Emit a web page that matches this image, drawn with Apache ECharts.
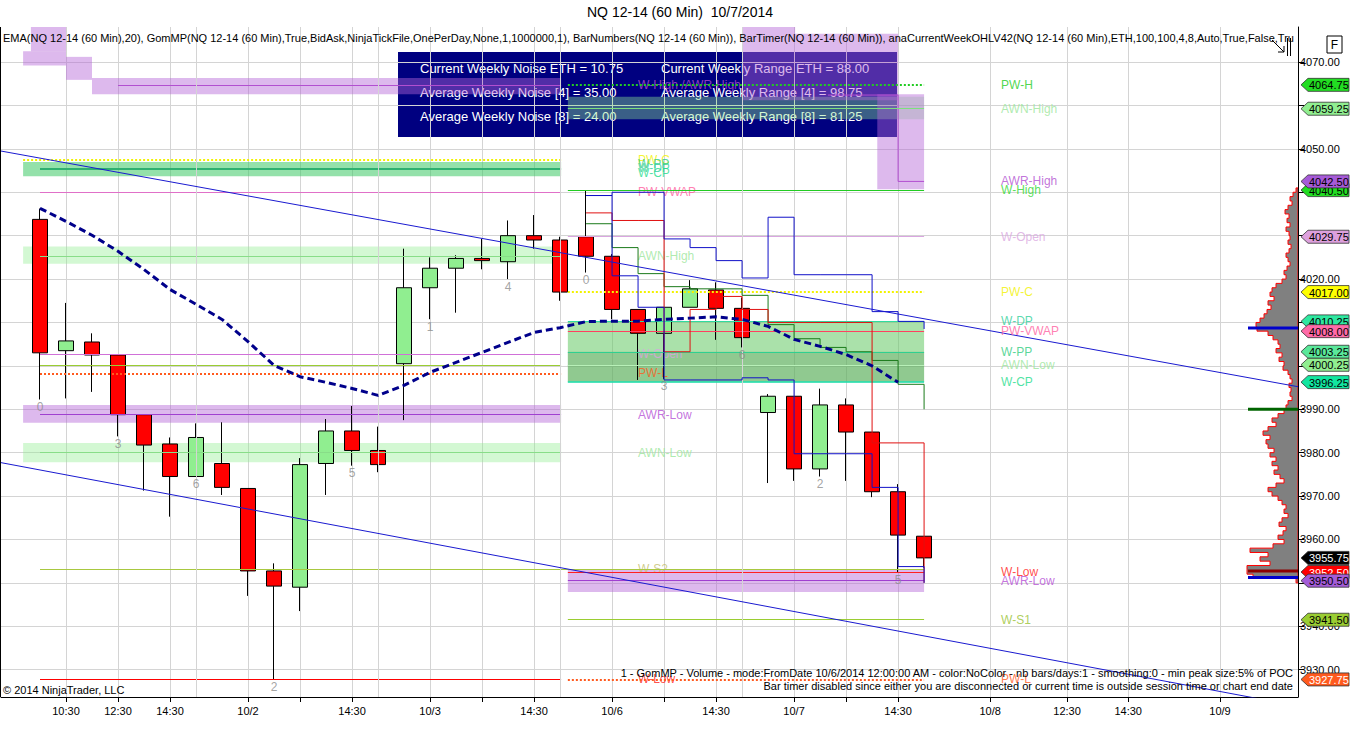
<!DOCTYPE html>
<html><head><meta charset="utf-8">
<script src="https://cdn.jsdelivr.net/npm/echarts@6/dist/echarts.min.js"></script>
<style>html,body{margin:0;padding:0;background:#fff}#c{width:1360px;height:743px}</style>
</head><body><div id="c"></div>
<script>
// ---------------- DATA ----------------
const opens  = [4033.75,4003.5,4005.5,4002.5,3988.75,3982.0,3974.5,3977.5,3971.75,3952.75,3949.0,3977.5,3985.0,3980.5,4000.5,4018.0,4022.5,4024.75,4024.0,4030.0,4029.0,4029.75,4025.25,4013.0,4007.5,4013.5,4017.5,4013.25,3989.25,3993.0,3976.25,3991.0,3984.75,3971.0,3960.75];
const closes = [4003.0,4005.75,4002.5,3988.75,3981.75,3974.5,3983.5,3972.0,3952.75,3949.25,3977.25,3985.0,3980.5,3977.25,4018.0,4022.5,4024.75,4024.25,4030.0,4029.0,4017.0,4025.25,4013.0,4007.5,4013.5,4017.75,4013.25,4006.5,3993.0,3976.25,3991.0,3984.75,3971.0,3961.0,3955.75];
const lows   = [3992.25,3992.5,3994.0,3983.75,3971.25,3965.25,3974.5,3970.25,3947.0,3927.75,3943.5,3970.25,3977.0,3975.5,3987.5,4010.75,4012.25,4022.25,4020.0,4027.0,4015.0,4021.5,4010.75,3996.75,3997.0,4013.5,4006.0,4004.25,3973.0,3973.5,3974.5,3973.5,3969.75,3952.5,3953.5];
const highs  = [4036.25,4014.5,4007.5,4002.5,3988.75,3983.5,3986.75,3987.0,3971.75,3954.5,3978.75,3987.75,3990.75,3986.0,4027.0,4025.0,4025.5,4029.25,4033.5,4034.75,4029.75,4040.5,4025.75,4013.0,4013.5,4019.75,4019.25,4015.75,3993.5,3993.0,3994.75,3992.5,3984.75,3972.75,3960.75];
const emaValues = [4036.3,4033.3,4030.1,4026.4,4022.2,4017.6,4014.2,4010.7,4005.6,4000.1,3997.5,3996.2,3994.8,3993.2,3995.5,3998.5,4000.8,4003.1,4005.4,4007.7,4008.8,4010.2,4010.3,4010.3,4010.7,4011.0,4011.3,4010.7,4009.1,4006.1,4004.5,4002.6,4000.0,3996.2];
const barNumberIdx  = [0,3,6,9,12,15,18,21,24,27,30,33];
const barNumberText = ['0','3','6','2','5','1','4','0','3','6','2','5'];

const xLabelSlots = [1,3,5,8,12,15,19,22,26,29,33,36.54,39.5,41.85,45.38];
const xLabelTexts = ['10:30','12:30','14:30','10/2','14:30','10/3','14:30','10/6','14:30','10/7','14:30','10/8','12:30','14:30','10/9'];
const xTickSlots  = [1,3,5,8,10,12,15,17,19,22,24,26,29,31,33,36.54,39.5,41.85,45.38];
const xExtraGridSlots = [6,13,20,27];
const yTickValues  = [3930,3940,3950,3960,3970,3980,3990,4000,4010,4020,4030,4040,4050,4060,4070];
const yLabelValues = [3930,3940,3960,3970,3980,3990,4020,4050,4070]; // the others sit under price flags

// step lines of the current week (one value per bar, bars 21..34)
const stepBars      = [21,22,23,24,25,26,27,28,29,30,31,32,33,34];
const stepBlueUpper = [4039.25,4040.0,4040.0,4029.25,4027.25,4024.25,4020.25,4034.25,4021.0,4021.0,4021.0,4012.5,4010.25,4008.5];
const stepBlueLower = [4039.25,4020.75,4013.5,3996.75,3996.75,3996.75,3997.25,3996.75,3979.75,3979.75,3979.75,3972.0,3953.75,3950.0];
const stepRed       = [4035.25,4033.5,4033.5,4003.25,4013.0,4016.0,4013.0,4010.0,4010.0,4010.0,4010.0,3982.25,3982.25,3950.0];
const stepGreen     = [4032.75,4027.25,4021.25,4018.25,4017.75,4017.75,4016.25,4009.5,4006.25,4004.25,4003.25,4001.25,3995.75,3990.0];
// current-week AWR-High step [slot, value]
const awrHighStep = [[30.3,4062.4],[33,4062.4],[33,4042.5],[34,4042.5]];

// trend lines [slot, value]
const trendUpper = [[-1.5,4049.5],[48.38,3995.2]];
const trendLower = [[-1.5,3977.7],[48.38,3921.6]];

// previous week levels
const prevNames  = ['W-High /AWR-High','PW-C','W-PP','W-DP','W-CP','PW-VWAP','AWN-High','W-Open','S1','PW-L','AWR-Low','AWN-Low','W-S2','W-Low'];
const prevValues = [4064.75,4047.5,4046.5,4045.5,4044.5,4040.0,4025.25,4002.75,4000.25,3998.25,3988.75,3980.0,3953.25,3927.75];
// current week levels
const curNames  = ['PW-H','AWN-High','AWR-High','W-High','W-Open','PW-C','W-DP','PW-VWAP','W-PP','AWN-Low','W-CP','W-Low','AWR-Low','W-S1','PW-L'];
const curValues = [4064.75,4059.25,4042.5,4040.5,4029.75,4017.0,4010.25,4008.0,4003.25,4000.25,3996.25,3952.5,3950.5,3941.5,3927.75];

// price flags on the axis
const flagNames  = ['PW-H','AWN-High','W-High','AWR-High','W-Open','PW-C','W-DP','PW-VWAP','W-PP','AWN-Low','W-CP','W-Low','Last','AWR-Low','W-S1','PW-L'];
const flagValues = [4064.75,4059.25,4040.5,4042.5,4029.75,4017.0,4010.25,4008.0,4003.25,4000.25,3996.25,3952.5,3955.75,3950.5,3941.5,3927.75];

// volume profile (price row centre, volume)
const profilePrices = [4040.5,4039.5,4038.5,4037.5,4036.5,4035.5,4034.5,4033.5,4032.5,4031.5,4030.5,4029.5,4028.5,4027.5,4026.5,4025.5,4024.5,4023.5,4022.5,4021.5,4020.5,4019.5,4018.5,4017.5,4016.5,4015.5,4014.5,4013.5,4012.5,4011.5,4010.5,4009.5,4008.5,4007.5,4006.5,4005.5,4004.5,4003.5,4002.5,4001.5,4000.5,3999.5,3998.5,3997.5,3996.5,3995.5,3994.5,3993.5,3992.5,3991.5,3990.5,3989.5,3988.5,3987.5,3986.5,3985.5,3984.5,3983.5,3982.5,3981.5,3980.5,3979.5,3978.5,3977.5,3976.5,3975.5,3974.5,3973.5,3972.5,3971.5,3970.5,3969.5,3968.5,3967.5,3966.5,3965.5,3964.5,3963.5,3962.5,3961.5,3960.5,3959.5,3958.5,3957.5,3956.5,3955.5,3954.5,3953.5,3952.5,3951.5,3950.5];
const profileVols   = [2,5,8,6,10,13,9,11,8,12,9,8,10,7,9,12,10,8,11,14,12,16,22,26,28,24,30,27,31,34,38,42,41,30,25,20,18,22,16,19,14,15,10,8,6,9,7,8,6,10,12,14,20,26,22,30,35,28,32,30,24,28,22,26,20,24,18,14,22,30,26,20,16,12,14,10,16,19,12,15,20,14,25,48,30,38,28,51,51,45,2];
const profileMarkValues = [4008.75,3990.0,3952.75,3951.25];
const profileMarkLength = [50,50,50,50];

// ---------------- STYLES ----------------
const LEVEL_COLORS = {
  'PW-H':'#22cc22','AWN-High':'#9be69b','AWR-High':'#b24fd0','W-High':'#2fd62f','W-Open':'#d9a6e0',
  'PW-C':'#f2f200','W-DP':'#2fcf9a','PW-VWAP':'#ff5e9e','W-PP':'#2fcc80','AWN-Low':'#9be69b','W-CP':'#1edc8c',
  'W-Low':'#ff2020','AWR-Low':'#b54fd6','W-S1':'#99c233','PW-L':'#ff5a1e','W-S2':'#c4c070','S1':'#9acd32',
  'W-High /AWR-High':'#b24fd0'
};
const FLAG_STYLE = {
  'PW-H':['#22dd22','#000'],'AWN-High':['#90ee90','#000'],'W-High':['#22dd22','#000'],'AWR-High':['#a65ad8','#000'],
  'W-Open':['#dda0dd','#000'],'PW-C':['#ffff00','#000'],'W-DP':['#2ee8a0','#000'],'PW-VWAP':['#ff6aa8','#000'],
  'W-PP':['#5ae89a','#000'],'AWN-Low':['#90ee90','#000'],'W-CP':['#12e6a0','#000'],'W-Low':['#ff0000','#fff'],
  'Last':['#000000','#fff'],'AWR-Low':['#a45cd8','#000'],'W-S1':['#9acd32','#000'],'PW-L':['#ff5a1e','#fff']
};
const FONT = 'Liberation Sans, Arial, sans-serif';
const PREV_X0 = 0, PREV_X1 = 20.04, PREV_BAND_X0 = -0.65;
const CUR_X0 = 20.3, CUR_X1 = 34;
const PREV_LABEL_SLOT = 23, CUR_LABEL_SLOT = 36.96;
const X_MIN = -1.5, X_MAX = 48.38, Y_MIN = 3923.70, Y_MAX = 4078.08;

// ---------------- BUILD ----------------
const candleData = opens.map((o,i)=>[i, o, closes[i], lows[i], highs[i]]);
const emaData = emaValues.map((v,i)=>[i,v]);
const valOf = (names, values, n) => values[names.indexOf(n)];

function hline(x0,x1,v,color,width,type){
  return [{coord:[x0,v],lineStyle:{color:color,width:width||1,type:type||'solid'}},{coord:[x1,v]}];
}
function band(x0,x1,v0,v1,color){
  return [{coord:[x0,v0],itemStyle:{color:color}},{coord:[x1,v1]}];
}
const PURPLE_BAND='rgba(180,100,215,0.45)', GREEN_BAND='rgba(144,238,144,0.4)';

const prevLines = [
  hline(3,PREV_X1,valOf(prevNames,prevValues,'W-High /AWR-High'),'#b24fd0',1),
  hline(PREV_BAND_X0,PREV_X1,valOf(prevNames,prevValues,'PW-C'),'#f2f200',2,'dotted'),
  hline(PREV_X0,PREV_X1,valOf(prevNames,prevValues,'W-DP'),'#2fb070',2),
  hline(PREV_X0,PREV_X1,valOf(prevNames,prevValues,'PW-VWAP'),'#e070c8',1),
  hline(PREV_X0,PREV_X1,valOf(prevNames,prevValues,'AWN-High'),'#88dd88',1),
  hline(PREV_X0,PREV_X1,valOf(prevNames,prevValues,'W-Open'),'#d070d8',1),
  hline(PREV_X0,PREV_X1,valOf(prevNames,prevValues,'S1'),'#9acd32',1),
  hline(PREV_X0,PREV_X1,valOf(prevNames,prevValues,'PW-L'),'#ff5a1e',2,'dotted'),
  hline(PREV_X0,PREV_X1,valOf(prevNames,prevValues,'AWR-Low'),'#a040d0',1),
  hline(PREV_X0,PREV_X1,valOf(prevNames,prevValues,'AWN-Low'),'#88dd88',1),
  hline(PREV_X0,CUR_X1,valOf(prevNames,prevValues,'W-S2'),'#a8c840',1.2),
  hline(PREV_X0,PREV_X1,valOf(prevNames,prevValues,'W-Low'),'#ff0000',1.2)
];
const prevBands = [
  band(PREV_BAND_X0,PREV_X1,4047.0,4043.7,'rgba(60,200,100,0.55)'),
  band(PREV_BAND_X0,PREV_X1,4027.5,4023.5,GREEN_BAND),
  band(PREV_BAND_X0,PREV_X1,3991.0,3986.9,PURPLE_BAND),
  band(PREV_BAND_X0,PREV_X1,3982.2,3977.8,GREEN_BAND),
  band(PREV_BAND_X0,1,4072.5,4069.2,PURPLE_BAND),
  band(-0.35,1,4078.1,4072.5,PURPLE_BAND),
  band(1,2,4071.2,4065.9,PURPLE_BAND),
  band(2,PREV_X1,4066.3,4062.6,PURPLE_BAND)
];
const curLines = [
  hline(CUR_X0,CUR_X1,valOf(curNames,curValues,'PW-H'),'#22cc22',2,'dotted'),
  hline(CUR_X0,CUR_X1,valOf(curNames,curValues,'AWN-High'),'#7de07d',1),
  hline(CUR_X0,CUR_X1,valOf(curNames,curValues,'W-High'),'#22cc22',1),
  hline(CUR_X0,CUR_X1,valOf(curNames,curValues,'W-Open'),'#d9a6e0',1),
  hline(CUR_X0,CUR_X1,valOf(curNames,curValues,'PW-C'),'#f2f200',2,'dotted'),
  hline(CUR_X0,CUR_X1,valOf(curNames,curValues,'W-DP'),'#2fdca0',1),
  hline(CUR_X0,CUR_X1,valOf(curNames,curValues,'PW-VWAP'),'#ff4060',1),
  hline(CUR_X0,CUR_X1,valOf(curNames,curValues,'W-PP'),'#2fd090',1),
  hline(CUR_X0,CUR_X1,valOf(curNames,curValues,'AWN-Low'),'#b8f0b8',1),
  hline(CUR_X0,CUR_X1,valOf(curNames,curValues,'W-CP'),'#1ee0b0',1.5),
  hline(CUR_X0,CUR_X1,valOf(curNames,curValues,'W-Low'),'#ff2020',1),
  hline(CUR_X0,CUR_X1,valOf(curNames,curValues,'AWR-Low'),'#a040d0',1),
  hline(CUR_X0,CUR_X1,valOf(curNames,curValues,'W-S1'),'#9acd32',1),
  hline(CUR_X0,CUR_X1,valOf(curNames,curValues,'PW-L'),'#ff5a1e',2,'dotted')
];
const curBands = [
  band(CUR_X0,CUR_X1,4062.0,4056.8,'rgba(144,238,144,0.4)'),
  band(CUR_X0,CUR_X1,4010.25,3996.25,'rgba(100,200,100,0.55)'),
  band(CUR_X0,CUR_X1,4003.25,3996.25,'rgba(80,140,80,0.28)'),
  band(CUR_X0,CUR_X1,3953.0,3947.9,PURPLE_BAND),
  band(27.03,29.04,4078.1,4061.2,PURPLE_BAND),
  band(29.04,33,4076.5,4061.2,PURPLE_BAND),
  band(32.2,CUR_X1,4062.6,4040.7,PURPLE_BAND)
];
const gridExtra = xExtraGridSlots.map(s=>[{coord:[s,Y_MIN],lineStyle:{color:'#d4d4d4',width:1,type:'solid'}},{coord:[s,Y_MAX]}]);

function stepSeries(vals,color){
  return {type:'line',step:'end',data:stepBars.map((b,i)=>[b,vals[i]]),symbol:'none',z:5,silent:true,
    lineStyle:{color:color,width:1},animation:false};
}
const boxFont = '13px '+FONT;
function boxText(x,y,t){return {type:'text',z:-9,style:{x:x,y:y,text:t,fill:'#fff',font:boxFont,textVerticalAlign:'middle',verticalAlign:'middle'}};}

const option = {
  animation:false,
  backgroundColor:'#ffffff',
  grid:{left:1,right:62,top:27,bottom:46,containLabel:false},
  xAxis:[{
    type:'value',min:X_MIN,max:X_MAX,
    axisLine:{show:true,onZero:false,lineStyle:{color:'#000',width:1}},
    axisTick:{show:true,customValues:xTickSlots,length:5,lineStyle:{color:'#000'}},
    axisLabel:{show:true,customValues:xLabelSlots,margin:8,color:'#000',fontSize:11,fontFamily:FONT,
      formatter:(v)=>{for(let i=0;i<xLabelSlots.length;i++){if(Math.abs(xLabelSlots[i]-v)<0.01)return xLabelTexts[i];}return '';}},
    splitLine:{show:true,lineStyle:{color:'#d4d4d4',width:1}}
  },{
    type:'value',min:0,max:1297,inverse:true,show:false,splitLine:{show:false}
  }],
  yAxis:[{
    type:'value',position:'right',min:Y_MIN,max:Y_MAX,
    axisLine:{show:true,onZero:false,lineStyle:{color:'#000',width:1}},
    axisTick:{show:true,customValues:yTickValues,length:6,inside:false,lineStyle:{color:'#000'}},
    axisLabel:{show:true,customValues:yLabelValues,margin:2,color:'#000',fontSize:11,fontFamily:FONT,formatter:(v)=>v.toFixed(2)},
    splitLine:{show:true,lineStyle:{color:'#d4d4d4',width:1}}
  }],
  graphic:[
    {type:'text',left:'center',top:5,z:10,style:{text:'NQ 12-14 (60 Min)  10/7/2014',fill:'#000',font:'14px '+FONT}},
    {type:'rect',z:-10,shape:{x:398,y:52,width:499,height:85},style:{fill:'#000080'}},
    boxText(420,68,'Current Weekly Noise ETH = 10.75'),
    boxText(420,92,'Average Weekly Noise [4] = 35.00'),
    boxText(420,116,'Average Weekly Noise [8] = 24.00'),
    boxText(661,68,'Current Weekly Range ETH = 88.00'),
    boxText(661,92,'Average Weekly Range [4] = 98.75'),
    boxText(661,116,'Average Weekly Range [8] = 81.25'),
    {type:'text',z:20,style:{x:3,y:38,width:1294,overflow:'truncate',ellipsis:'',text:'EMA(NQ 12-14 (60 Min),20), GomMP(NQ 12-14 (60 Min),True,BidAsk,NinjaTickFile,OnePerDay,None,1,1000000,1), BarNumbers(NQ 12-14 (60 Min)), BarTimer(NQ 12-14 (60 Min)), anaCurrentWeekOHLV42(NQ 12-14 (60 Min),ETH,100,100,4,8,Auto,True,False,True)',fill:'#000',font:'11px '+FONT,textVerticalAlign:'middle',verticalAlign:'middle'}},
    {type:'text',z:20,style:{x:3,y:690,text:'\u00a9 2014 NinjaTrader, LLC',fill:'#000',font:'11px '+FONT,textVerticalAlign:'middle',verticalAlign:'middle'}},
    {type:'text',z:20,style:{x:1293,y:673,text:'1 - GomMP - Volume - mode:FromDate 10/6/2014 12:00:00 AM - color:NoColor - nb bars/days:1 - smoothing:0 - min peak size:5% of POC',fill:'#000',font:'11px '+FONT,textAlign:'right',align:'right',textVerticalAlign:'middle',verticalAlign:'middle'}},
    {type:'text',z:20,style:{x:1293,y:686,text:'Bar timer disabled since either you are disconnected or current time is outside session time or chart end date',fill:'#000',font:'11px '+FONT,textAlign:'right',align:'right',textVerticalAlign:'middle',verticalAlign:'middle'}},
    {type:'line',z:20,shape:{x1:0.5,y1:27,x2:0.5,y2:697},style:{stroke:'#000',lineWidth:1}},
    {type:'rect',z:20,shape:{x:1327,y:36,width:15,height:17},style:{fill:'#fff',stroke:'#000',lineWidth:1}},
    {type:'text',z:21,style:{x:1334.5,y:45,text:'F',fill:'#000',font:'12px '+FONT,textAlign:'center',align:'center',textVerticalAlign:'middle',verticalAlign:'middle'}},
    {type:'polyline',z:21,shape:{points:[[1272,40],[1284,52]]},style:{stroke:'#000',lineWidth:1}},
    {type:'polyline',z:21,shape:{points:[[1278,52],[1284,52],[1284,46]]},style:{stroke:'#000',lineWidth:1,fill:null}},
    {type:'line',z:21,shape:{x1:1287.5,y1:38,x2:1287.5,y2:56},style:{stroke:'#000',lineWidth:1}},
    {type:'line',z:21,shape:{x1:1290.5,y1:38,x2:1290.5,y2:56},style:{stroke:'#000',lineWidth:1}}
  ],
  series:[
    {type:'scatter',z:1,silent:true,symbolSize:0,itemStyle:{color:'transparent'},
      data:prevNames.filter(n=>n!=='S1').map(n=>({value:[PREV_LABEL_SLOT,valOf(prevNames,prevValues,n)],name:n,label:{color:LEVEL_COLORS[n]}})),
      label:{show:true,position:'right',distance:0,fontSize:12,fontFamily:FONT,formatter:p=>p.name},
      labelLayout:{hideOverlap:false}},
    {type:'line',z:2,data:[],silent:true,markArea:{silent:true,data:prevBands.concat(curBands)}},
    {type:'line',z:3,data:[],silent:true,markLine:{silent:true,symbol:['none','none'],label:{show:false},data:prevLines.concat(curLines)}},
    {type:'line',z:0,data:[],silent:true,markLine:{silent:true,symbol:['none','none'],label:{show:false},data:gridExtra}},
    {type:'line',z:3,data:awrHighStep,symbol:'none',silent:true,lineStyle:{color:'#b24fd0',width:1}},
    {type:'candlestick',z:4,data:candleData,barWidth:16,silent:true,
      encode:{x:0,y:[1,2,3,4]},
      itemStyle:{color:'#90ee90',color0:'#ff0000',borderColor:'#000',borderColor0:'#000',borderWidth:1}},
    stepSeries(stepGreen,'#1a7a1a'),
    stepSeries(stepRed,'#e01010'),
    stepSeries(stepBlueUpper,'#1010c8'),
    stepSeries(stepBlueLower,'#1010c8'),
    {type:'line',z:6,data:emaData,symbol:'none',silent:true,lineStyle:{color:'#00008b',width:3,type:[7,4]}},
    {type:'line',z:6,data:trendUpper,symbol:'none',silent:true,lineStyle:{color:'#1a1ad0',width:1}},
    {type:'line',z:6,data:trendLower,symbol:'none',silent:true,lineStyle:{color:'#1a1ad0',width:1}},
    {type:'scatter',z:6,silent:true,symbolSize:1,itemStyle:{color:'transparent'},
      data:barNumberIdx.map((b,i)=>({value:[b,lows[b]],name:barNumberText[i]})),
      label:{show:true,position:'bottom',distance:1,color:'#8c8c8c',fontSize:12,fontFamily:FONT,formatter:p=>p.name}},
    {type:'scatter',z:6,silent:true,symbolSize:0,itemStyle:{color:'transparent'},
      data:curNames.map((n,i)=>({value:[CUR_LABEL_SLOT,curValues[i]],name:n,label:{color:LEVEL_COLORS[n]}})),
      label:{show:true,position:'right',distance:0,fontSize:12,fontFamily:FONT,formatter:p=>p.name},
      labelLayout:{hideOverlap:false}},
    {type:'custom',xAxisIndex:1,yAxisIndex:0,z:5,silent:true,clip:true,data:[[0]],
      renderItem:(params,api)=>{
        const pts=[api.coord([0,profilePrices[0]+0.5])];
        profilePrices.forEach((p,i)=>{pts.push(api.coord([profileVols[i],p+0.5]));pts.push(api.coord([profileVols[i],p-0.5]));});
        pts.push(api.coord([0,profilePrices[profilePrices.length-1]-0.5]));
        return {type:'polygon',shape:{points:pts},style:{fill:'#808080',stroke:'#ff0000',lineWidth:1}};
      }},
    ...profileMarkValues.map((v,i)=>({type:'line',xAxisIndex:1,yAxisIndex:0,z:6,silent:true,symbol:'none',
      data:[[0,v],[profileMarkLength[i],v]],lineStyle:{width:3,color:['#0000cc','#006400','#8b0000','#0000cc'][i]}})),
    {type:'custom',z:10,silent:true,clip:false,data:flagValues.map((v,i)=>[X_MAX,v,i]),
      renderItem:(params,api)=>{
        const p=api.coord([api.value(0),api.value(1)]);
        const st=FLAG_STYLE[flagNames[api.value(2)]];
        const x=p[0]+3,y=p[1],h=6.5;
        return {type:'group',children:[
          {type:'polygon',shape:{points:[[x,y],[x+7,y-h],[x+48,y-h],[x+48,y+h],[x+7,y+h]]},style:{fill:st[0],stroke:'#333',lineWidth:0.8}},
          {type:'text',style:{x:x+8,y:y+0.5,text:api.value(1).toFixed(2),fill:st[1],font:'11px '+FONT,verticalAlign:'middle',textVerticalAlign:'middle'}}
        ]};
      }}
  ]
};

const chart = echarts.init(document.getElementById('c'), null, {renderer:'svg',width:1360,height:743});
chart.setOption(option);
</script>
</body></html>
